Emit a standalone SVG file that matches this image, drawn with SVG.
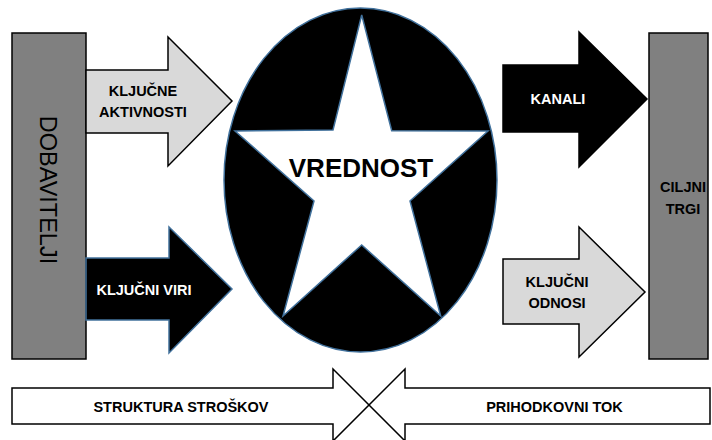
<svg xmlns="http://www.w3.org/2000/svg" width="712" height="440" viewBox="0 0 712 440">
<style>
.box{fill:#808080;stroke:#000;stroke-width:1.5}
.light{fill:#d9d9d9;stroke:#000;stroke-width:1.5;stroke-linejoin:miter}
.dark{fill:#000;stroke:#000;stroke-width:1.5}
.blue{stroke:#41719c;stroke-width:1.5}
.white{fill:#fff;stroke:#000;stroke-width:1.5}
.t{font-family:"Liberation Sans",Arial,sans-serif;font-weight:bold;font-size:14.5px;text-anchor:middle}
.w{fill:#fff}
.k{fill:#000}
</style>
<g id="dobavitelji">
<rect class="box" x="12" y="33" width="74" height="326"/>
<text transform="translate(40,190) rotate(90)" x="0" y="0" style="font-family:'Liberation Sans',Arial,sans-serif;font-size:23.5px;text-anchor:middle" fill="#000">DOBAVITELJI</text>
</g>
<g id="kljucne-aktivnosti">
<polygon class="light" points="86,70 168,70 168,37 232,101 168,166 168,133 86,133"/>
<text class="t k" x="143" y="96">KLJUČNE</text>
<text class="t k" x="143" y="117">AKTIVNOSTI</text>
</g>
<g id="kljucni-viri">
<polygon class="dark blue" points="86,258 169,258 169,227 232,289 169,353 169,320 86,320"/>
<text class="t w" x="144" y="295">KLJUČNI VIRI</text>
</g>
<g id="vrednost">
<ellipse class="blue" cx="360.5" cy="180" rx="136.5" ry="172" fill="#000"/>
<polygon class="blue" fill="#fff" points="361.7,15 391.7,130.7 488,131 410,201 440.7,316 361.7,245 283,316 314,201 235,131 333,130"/>
<text class="t k" x="361" y="177" style="font-size:26px">VREDNOST</text>
</g>
<g id="kanali">
<polygon class="dark" points="503,65 579,65 579,32 647,99 579,167 579,132 503,132"/>
<text class="t w" x="558" y="104">KANALI</text>
</g>
<g id="kljucni-odnosi">
<polygon class="light" points="503,259 579,259 579,227 645,292 579,357 579,324 503,324"/>
<text class="t k" x="557" y="287">KLJUČNI</text>
<text class="t k" x="557" y="308">ODNOSI</text>
</g>
<g id="ciljni-trgi">
<rect class="box" x="649" y="33" width="59" height="326"/>
<text class="t k" x="683" y="192">CILJNI</text>
<text class="t k" x="683" y="214">TRGI</text>
</g>
<g id="struktura-stroskov">
<polygon class="white" points="12,388 333,388 333,369 369,405 333,441 333,424 12,424"/>
<text class="t k" x="181" y="412">STRUKTURA STROŠKOV</text>
</g>
<g id="prihodkovni-tok">
<polygon class="white" points="710,388 405,388 405,369 369,405 405,441 405,424 710,424"/>
<text class="t k" x="554.5" y="412">PRIHODKOVNI TOK</text>
</g>
<g id="connectors"/>
</svg>
